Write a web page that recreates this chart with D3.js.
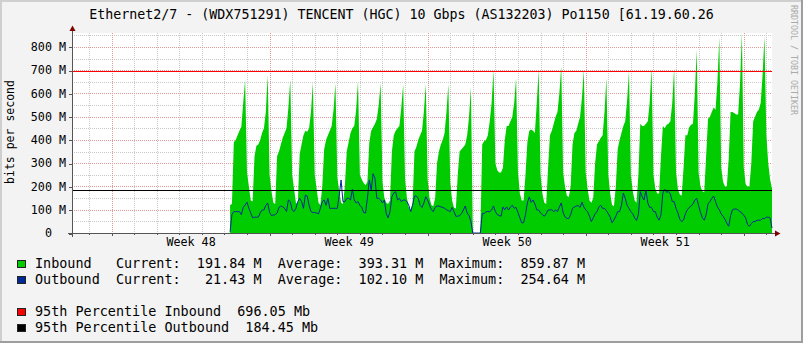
<!DOCTYPE html>
<html>
<head>
<meta charset="utf-8">
<script src="https://cdn.jsdelivr.net/npm/d3@7"></script>
<style>
body { margin: 0; background: #f3f3f3; }
text { font-family: "DejaVu Sans Mono", monospace; white-space: pre; fill: #000; }
</style>
</head>
<body>
<svg id="chart" width="803" height="343"></svg>
<script>
// chart text and tick labels
var title = "Ethernet2/7 - (WDX751291) TENCENT (HGC) 10 Gbps (AS132203) Po1150 [61.19.60.26";
var yTicks = [0, 100, 200, 300, 400, 500, 600, 700, 800];
var yTickLabels = ["0  ", "100 M", "200 M", "300 M", "400 M", "500 M", "600 M", "700 M", "800 M"];
var weekTicks = ["2023-11-30T12:00Z", "2023-12-07T12:00Z", "2023-12-14T12:00Z", "2023-12-21T12:00Z"];
var weekLabels = ["Week 48", "Week 49", "Week 50", "Week 51"];

// time span of the graph, samples every 2 hours from firstSample
var timeSpan = ["2023-11-25T06:00Z", "2023-12-26T06:00Z"];
var firstSample = "2023-12-02T06:00Z";

// inbound, Mbit/s (one row per day)
var inbound = [
  120, 125, 390, 400, 420, 440, 457, 560, 658,
  260, 200, 140, 135, 330, 375, 380, 400, 430, 450, 520, 679,
  250, 180, 130, 125, 330, 350, 380, 410, 430, 450, 540, 658,
  250, 190, 130, 125, 340, 380, 420, 440, 435, 450, 520, 646,
  250, 190, 130, 120, 200, 360, 400, 420, 440, 460, 530, 644,
  240, 180, 130, 125, 200, 350, 390, 430, 450, 460, 530, 651,
  250, 230, 215, 205, 220, 390, 440, 455, 470, 490, 550, 644,
  220, 150, 130, 125, 140, 350, 420, 440, 450, 460, 540, 639,
  230, 150, 110, 100, 130, 350, 370, 400, 420, 440, 520, 639,
  230, 150, 120, 115, 150, 300, 350, 380, 400, 430, 520, 639,
  220, 140, 110, 105, 250, 350, 360, 370, 380, 420, 500, 625,
  0, 0, 0, 0, 0, 380, 395, 400, 420, 480, 560, 701,
  300, 270, 260, 260, 280, 400, 460, 460, 480, 500, 560, 665,
  260, 170, 140, 140, 250, 390, 440, 445, 440, 430, 560, 701,
  250, 170, 130, 125, 280, 420, 440, 470, 500, 520, 600, 718,
  260, 200, 160, 155, 200, 380, 430, 440, 470, 500, 580, 701,
  260, 190, 140, 130, 150, 300, 380, 395, 410, 420, 520, 665,
  250, 170, 120, 115, 200, 360, 400, 430, 460, 480, 570, 694,
  250, 180, 140, 130, 250, 470, 460, 460, 470, 480, 560, 708,
  250, 190, 170, 170, 330, 460, 450, 465, 470, 480, 560, 708,
  260, 190, 165, 160, 280, 420, 420, 455, 465, 470, 600, 787,
  260, 200, 180, 175, 330, 490, 500, 520, 540, 530, 650, 841,
  280, 220, 200, 200, 320, 520, 520, 515, 510, 510, 640, 859.87,
  280, 210, 200, 200, 300, 480, 500, 520, 530, 560, 680, 844,
  420, 300, 230, 191.84
];

// outbound, Mbit/s
var outbound = [
  5, 80, 92, 92, 92, 92, 79, 110, 120,
  132, 106, 86, 65, 68, 68, 68, 86, 99, 99, 119, 129,
  89, 75, 77, 79, 86, 110, 116, 112, 106, 92, 142, 135,
  99, 92, 106, 135, 149, 135, 106, 163, 159, 119, 92, 88,
  88, 86, 82, 106, 135, 142, 119, 149, 106, 106, 106, 106,
  106, 163, 228, 135, 135, 149, 149, 142, 188, 142, 129, 135,
  119, 110, 88, 86, 150, 228, 185, 254.64, 235, 149, 149, 142,
  129, 142, 83, 65, 92, 156, 172, 178, 142, 149, 135, 142,
  142, 135, 119, 92, 119, 159, 159, 149, 119, 110, 129, 156,
  142, 119, 100, 92, 110, 116, 116, 112, 110, 106, 100, 96,
  92, 110, 92, 72, 72, 75, 83, 99, 116, 86, 75, 49,
  0, 0, 0, 0, 0, 83, 83, 92, 92, 92, 99, 116,
  92, 79, 75, 72, 112, 100, 112, 99, 112, 119, 106, 110,
  88, 65, 44, 44, 79, 129, 155, 132, 142, 125, 99, 99,
  86, 79, 72, 83, 99, 99, 100, 92, 99, 92, 112, 129,
  88, 69, 63, 62, 79, 106, 112, 116, 118, 110, 132, 112,
  99, 92, 72, 49, 65, 83, 92, 112, 119, 106, 106, 96,
  83, 68, 44, 56, 72, 92, 92, 119, 172, 149, 119, 106,
  92, 83, 65, 54, 79, 178, 156, 142, 185, 129, 110, 110,
  92, 92, 68, 55, 79, 172, 188, 175, 178, 168, 135, 135,
  106, 86, 59, 49, 56, 83, 100, 110, 116, 125, 142, 149,
  118, 88, 65, 55, 79, 125, 135, 149, 159, 135, 112, 100,
  82, 72, 59, 42, 29, 75, 100, 103, 103, 99, 92, 86,
  76, 65, 36, 29, 40, 49, 49, 55, 55, 55, 63, 62,
  68, 68, 65, 21.43
];

var pctInbound = 696.05, pctOutbound = 184.45;

var legendRows = [
  { color: "#00CC00", text: "Inbound   Current:  191.84 M  Average:  393.31 M  Maximum:  859.87 M" },
  { color: "#002A97", text: "Outbound  Current:   21.43 M  Average:  102.10 M  Maximum:  254.64 M" },
  { color: "#FF0000", text: "95th Percentile Inbound  696.05 Mb" },
  { color: "#000000", text: "95th Percentile Outbound  184.45 Mb" }
];

var W = 803, H = 343;
var plot = { left: 72, right: 772, top: 33, bottom: 233 };

var svg = d3.select("#chart");

// background and rrdtool style frame
svg.append("rect").attr("width", W).attr("height", H).attr("fill", "#f3f3f3");
svg.append("rect").attr("x", 0).attr("y", 0).attr("width", W).attr("height", 2).attr("fill", "#cfcfcf");
svg.append("rect").attr("x", 0).attr("y", 0).attr("width", 2).attr("height", H).attr("fill", "#cfcfcf");
svg.append("rect").attr("x", 0).attr("y", H - 2).attr("width", W).attr("height", 2).attr("fill", "#9e9e9e");
svg.append("rect").attr("x", W - 2).attr("y", 0).attr("width", 2).attr("height", H).attr("fill", "#9e9e9e");

// plot canvas
svg.append("rect")
    .attr("x", plot.left).attr("y", plot.top)
    .attr("width", plot.right - plot.left).attr("height", plot.bottom - plot.top)
    .attr("fill", "#ffffff");

var x = d3.scaleUtc()
    .domain(timeSpan.map(function(d) { return new Date(d); }))
    .range([plot.left, plot.right]);

var y = d3.scaleLinear()
    .domain([0, 859.87])
    .range([plot.bottom, plot.top]);

function crisp(v) { return Math.round(v) + 0.5; }

// grid
var grid = svg.append("g").attr("shape-rendering", "crispEdges");
var t0 = x.domain()[0], t1 = x.domain()[1];
var days = d3.utcDay.range(t0, t1);
var mondays = d3.utcMonday.range(t0, t1);

grid.selectAll(".vminor").data(days).enter().append("line")
    .attr("x1", function(d) { return crisp(x(d)); })
    .attr("x2", function(d) { return crisp(x(d)); })
    .attr("y1", plot.top).attr("y2", plot.bottom)
    .attr("stroke", "#c8c8c8").attr("stroke-dasharray", "1,1");

grid.selectAll(".hminor").data(d3.range(50, 860, 50)).enter().append("line")
    .attr("x1", plot.left).attr("x2", plot.right)
    .attr("y1", function(d) { return crisp(y(d)); })
    .attr("y2", function(d) { return crisp(y(d)); })
    .attr("stroke", "#c8c8c8").attr("stroke-dasharray", "1,1");

grid.selectAll(".vmajor").data(mondays).enter().append("line")
    .attr("x1", function(d) { return crisp(x(d)); })
    .attr("x2", function(d) { return crisp(x(d)); })
    .attr("y1", plot.top).attr("y2", plot.bottom)
    .attr("stroke", "#e49a9a").attr("stroke-dasharray", "1,1");

grid.selectAll(".hmajor").data(yTicks.slice(1)).enter().append("line")
    .attr("x1", plot.left).attr("x2", plot.right)
    .attr("y1", function(d) { return crisp(y(d)); })
    .attr("y2", function(d) { return crisp(y(d)); })
    .attr("stroke", "#e49a9a").attr("stroke-dasharray", "1,1");

// series
var start = new Date(firstSample).getTime();
function toPoints(arr) {
    return arr.map(function(v, i) { return { t: new Date(start + i * 2 * 3600e3), v: v }; });
}
var inPts = toPoints(inbound);
var outPts = toPoints(outbound);

var area = d3.area()
    .x(function(d) { return x(d.t); })
    .y0(y(0))
    .y1(function(d) { return y(d.v); });

svg.append("path").datum(inPts)
    .attr("d", area)
    .attr("fill", "#00CC00");

var line = d3.line()
    .x(function(d) { return x(d.t); })
    .y(function(d) { return y(d.v); });

svg.append("path").datum(outPts)
    .attr("d", line)
    .attr("fill", "none")
    .attr("stroke", "#002A97")
    .attr("stroke-width", 1);

// 95th percentile rules
[[pctInbound, "#FF0000"], [pctOutbound, "#000000"]].forEach(function(r) {
    svg.append("line")
        .attr("x1", plot.left).attr("x2", plot.right)
        .attr("y1", crisp(y(r[0]))).attr("y2", crisp(y(r[0])))
        .attr("stroke", r[1]).attr("shape-rendering", "crispEdges");
});

// axes
var yAxis = svg.append("g")
    .attr("transform", "translate(" + (plot.left + 0.5) + ",0)")
    .call(d3.axisLeft(y)
        .tickValues(yTicks)
        .tickFormat(function(d, i) { return yTickLabels[i]; })
        .tickSize(4)
        .tickPadding(2.5));
yAxis.select(".domain").remove();
yAxis.selectAll("line").attr("stroke", "#555").attr("shape-rendering", "crispEdges")
    .attr("transform", "translate(0,0.5)");
yAxis.selectAll("text").attr("font-size", "11.7px").attr("font-family", null).attr("fill", "#000");

var xAxis = svg.append("g")
    .attr("transform", "translate(0," + plot.bottom + ")")
    .call(d3.axisBottom(x)
        .tickValues(weekTicks.map(function(d) { return new Date(d); }))
        .tickFormat(function(d, i) { return weekLabels[i]; })
        .tickSize(0)
        .tickPadding(4.5));
xAxis.select(".domain").remove();
xAxis.selectAll("text").attr("font-size", "11.7px").attr("font-family", null).attr("fill", "#000");

// small ticks below x axis
svg.append("g").selectAll("line").data(days).enter().append("line")
    .attr("x1", function(d) { return crisp(x(d)); })
    .attr("x2", function(d) { return crisp(x(d)); })
    .attr("y1", plot.bottom).attr("y2", function(d) { return d.getUTCDay() === 1 ? plot.bottom + 3 : plot.bottom + 2; })
    .attr("stroke", "#555").attr("shape-rendering", "crispEdges");

// axis lines with arrows
svg.append("line")
    .attr("x1", plot.left - 4).attr("x2", plot.right + 4)
    .attr("y1", plot.bottom + 0.5).attr("y2", plot.bottom + 0.5)
    .attr("stroke", "#555").attr("shape-rendering", "crispEdges");
svg.append("line")
    .attr("x1", plot.left + 0.5).attr("x2", plot.left + 0.5)
    .attr("y1", plot.bottom + 4).attr("y2", plot.top - 3)
    .attr("stroke", "#555").attr("shape-rendering", "crispEdges");
svg.append("path")
    .attr("d", "M" + (plot.right + 3) + "," + (plot.bottom - 2.5) + "L" + (plot.right + 8.5) + "," + (plot.bottom + 0.5) + "L" + (plot.right + 3) + "," + (plot.bottom + 3.5) + "Z")
    .attr("fill", "#800000");
svg.append("path")
    .attr("d", "M" + (plot.left - 2.5) + "," + (plot.top - 2) + "L" + (plot.left + 0.5) + "," + (plot.top - 7.5) + "L" + (plot.left + 3.5) + "," + (plot.top - 2) + "Z")
    .attr("fill", "#800000");

// title
svg.append("text")
    .attr("x", W / 2).attr("y", 18.5)
    .attr("text-anchor", "middle")
    .attr("font-size", "13.3px")
    .text(title);

// vertical axis title
svg.append("text")
    .attr("transform", "translate(14,132) rotate(-90)")
    .attr("text-anchor", "middle")
    .attr("font-size", "11.5px")
    .text("bits per second");

// watermark
svg.append("text")
    .attr("transform", "translate(790.5,5) rotate(90)")
    .attr("font-size", "8.3px")
    .style("fill", "#aaaaaa")
    .text("RRDTOOL / TOBI OETIKER");

// legend
var legendY = [268, 284, 316, 332];
var legend = svg.append("g");
legendRows.forEach(function(r, i) {
    legend.append("rect")
        .attr("x", 17.5).attr("y", legendY[i] - 7.5)
        .attr("width", 8).attr("height", 7)
        .attr("fill", r.color)
        .attr("stroke", "#222").attr("stroke-width", 1)
        .attr("shape-rendering", "crispEdges");
    legend.append("text")
        .attr("x", 35).attr("y", legendY[i])
        .attr("font-size", "13.45px")
        .text(r.text);
});
</script>
</body>
</html>
